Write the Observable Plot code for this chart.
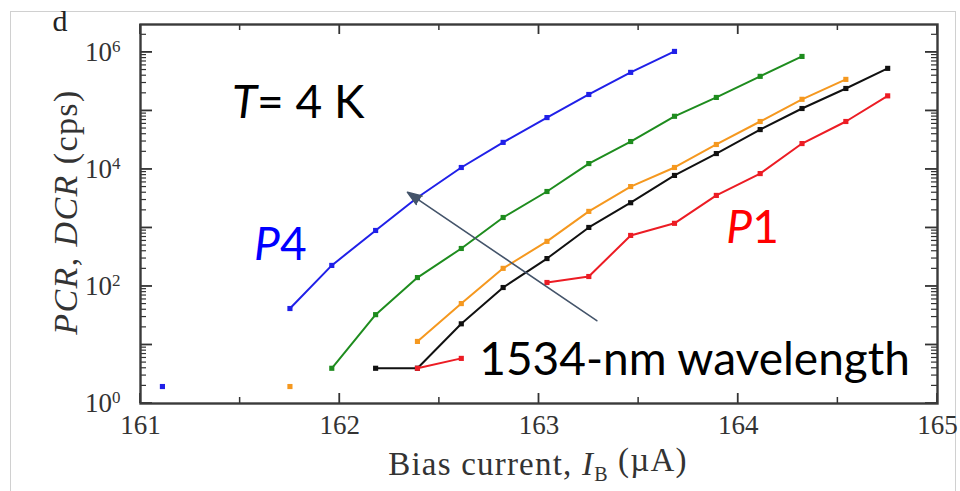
<!DOCTYPE html>
<html><head><meta charset="utf-8">
<script src="https://cdn.jsdelivr.net/npm/d3@7"></script>
<script src="https://cdn.jsdelivr.net/npm/@observablehq/plot@0.6"></script>
<style>
body{margin:0;background:#fff;}
#wrap{position:relative;width:960px;height:491px;overflow:hidden;background:#fff;}
#border{position:absolute;left:10px;top:11px;width:944px;height:540px;border:1px solid #d0d0d0;}
#chart{position:absolute;left:0;top:0;}
</style></head><body>
<div id="wrap"><div id="border"></div><div id="chart"></div></div>
<script>
// ---- data ----
const blueX  = [161.75, 161.96, 162.18, 162.39, 162.61, 162.82, 163.04, 163.25, 163.46, 163.68];
const blueY  = [42, 229, 906, 3320, 10800, 29000, 77000, 191000, 456000, 1040000];
const greenX = [161.96, 162.18, 162.39, 162.61, 162.82, 163.04, 163.25, 163.46, 163.68, 163.89, 164.11, 164.32];
const greenY = [4.0, 33, 142, 446, 1510, 4200, 12600, 30000, 81000, 170000, 390000, 853000];
const orangeX = [162.39, 162.61, 162.82, 163.04, 163.25, 163.46, 163.68, 163.89, 164.11, 164.32, 164.54];
const orangeY = [11.5, 51, 204, 590, 1920, 5100, 10800, 26700, 66000, 158000, 346000];
const blackX = [162.18, 162.39, 162.61, 162.82, 163.04, 163.25, 163.46, 163.68, 163.89, 164.11, 164.32, 164.54, 164.75];
const blackY = [4.0, 4.0, 23, 96, 300, 1020, 2700, 7900, 18700, 48000, 110000, 242000, 534000];
const redX = [162.39, 162.61, 162.82, 163.04, 163.25, 163.46, 163.68, 163.89, 164.11, 164.32, 164.54, 164.75];
const redY = [4.0, 5.9, null, 117, 148, 745, 1200, 3600, 8500, 27700, 66000, 181000];
// isolated points near the floor
const isoX = [161.11, 161.75];
const isoY = [1.95, 1.95];
const isoSeries = ["blue", "orange"];

const seriesNames = ["blue", "green", "orange", "black", "red"];
const seriesColors = ["#2020e8", "#1e8c1e", "#f5981f", "#111111", "#ec1c24"];

const xMajor = [161, 162, 163, 164, 165];
const xMinor = [161.5, 162.5, 163.5, 164.5];
const yMajor = [1, 10, 100, 1e3, 1e4, 1e5, 1e6];
const yLabelTicks = [1, 100, 1e4, 1e6];
const yMinor = [];
for (let k = 0; k <= 6; k++) for (let m = 2; m <= 9; m++) { const v = m * 10 ** k; if (v < 3e6) yMinor.push(v); }

// annotations
const arrowFrom = {x: 163.29, y: 26};
const arrowTo = {x: 162.34, y: 4070};
const labels = [
  {x: 161.585, y: 1.34e5, text: "T", italic: true, anchor: "end", color: "#000"},
  {x: 161.585, y: 1.34e5, text: "= 4 K", italic: false, anchor: "start", color: "#000"},
  {x: 161.70, y: 500, text: "P", italic: true, anchor: "end", color: "#0000ff"},
  {x: 161.70, y: 500, text: "4", italic: false, anchor: "start", color: "#0000ff"},
  {x: 164.07, y: 980, text: "P", italic: true, anchor: "end", color: "#ff0000"},
  {x: 164.07, y: 980, text: "1", italic: false, anchor: "start", color: "#ff0000"},
  {x: 162.70, y: 5.4, text: "1534-nm wavelength", italic: false, anchor: "start", color: "#000"}
];

// ---- build rows ----
const xs = {blue: blueX, green: greenX, orange: orangeX, black: blackX, red: redX};
const ys = {blue: blueY, green: greenY, orange: orangeY, black: blackY, red: redY};
const rows = [];
for (const s of seriesNames) xs[s].forEach((x, i) => rows.push({s, x, y: ys[s][i]}));
const isoRows = isoX.map((x, i) => ({s: isoSeries[i], x, y: isoY[i]}));
const dotRows = rows.filter(d => d.y != null).concat(isoRows);

const serif = "Liberation Serif, Times New Roman, serif";
const sans = "Lato, Open Sans, sans-serif";

const lineMarks = seriesNames.map((s, i) =>
  Plot.line(rows.filter(d => d.s === s), {x: "x", y: "y", stroke: seriesColors[i], strokeWidth: 2}));
const dotMarks = seriesNames.map((s, i) =>
  Plot.dot(dotRows.filter(d => d.s === s), {x: "x", y: "y", symbol: "square", r: 2.9, fill: seriesColors[i], stroke: "none"}));

const textMarks = labels.map(l => Plot.text([l], {
  x: "x", y: "y", text: "text", textAnchor: l.anchor, fill: l.color,
  fontSize: 46, fontFamily: sans, fontStyle: l.italic ? "italic" : "normal"
}));

const plot = Plot.plot({
  width: 960, height: 491,
  marginLeft: 140, marginRight: 23, marginTop: 24, marginBottom: 88,
  style: {background: "transparent", overflow: "visible"},
  x: {domain: [161, 165]},
  y: {type: "log", domain: [1, 3e6]},
  marks: [
    Plot.axisX({ticks: xMajor, tickSize: 0, tickPadding: 11, tickFormat: d => String(d), fontSize: 27, fontFamily: serif, fill: "#333", label: null}),
    Plot.axisY({ticks: yLabelTicks, tickSize: 0, tickPadding: 20, tickFormat: d => String(Math.round(Math.log10(d))), fontSize: 27, fontFamily: serif, fill: "#333", label: null}),
    Plot.frame({stroke: "#3a3a3a", strokeWidth: 2.4}),
    ...lineMarks,
    ...dotMarks,
    Plot.arrow([{x1: arrowFrom.x, y1: arrowFrom.y, x2: arrowTo.x, y2: arrowTo.y}], {
      x1: "x1", y1: "y1", x2: "x2", y2: "y2", stroke: "#44546a", strokeWidth: 1.6, headLength: 14, headAngle: 40
    }),
    ...textMarks
  ]
});

const svg = d3.select(plot);
const X = plot.scale("x"), Y = plot.scale("y");
const fLeft = X.apply(161), fRight = X.apply(165), fTop = Y.apply(3e6), fBottom = Y.apply(1);

// inward ticks on all four sides, placed with the plot's own scales
const tg = svg.insert("g", ":first-child").attr("stroke", "#333").attr("fill", "none");
const tick = (x1, y1, x2, y2, w) => tg.append("line").attr("x1", x1).attr("y1", y1).attr("x2", x2).attr("y2", y2).attr("stroke-width", w);
xMajor.forEach(v => { const px = X.apply(v); tick(px, fBottom, px, fBottom - 10, 1.8); tick(px, fTop, px, fTop + 10, 1.8); });
xMinor.forEach(v => { const px = X.apply(v); tick(px, fBottom, px, fBottom - 6, 1.5); tick(px, fTop, px, fTop + 6, 1.5); });
yMajor.forEach(v => { const py = Y.apply(v); tick(fLeft, py, fLeft + 12, py, 1.8); tick(fRight, py, fRight - 12, py, 1.8); });
yMinor.forEach(v => { const py = Y.apply(v); tick(fLeft, py, fLeft + 6, py, 1.2); tick(fRight, py, fRight - 6, py, 1.2); });

// filled arrowhead like the reference
svg.selectAll('g[aria-label="arrow"] path').attr("fill", "#44546a").attr("stroke-linejoin", "miter");

// superscript exponents on y tick labels
svg.selectAll('g[aria-label="y-axis tick label"] text').each(function () {
  const e = this.textContent;
  this.textContent = "10";
  d3.select(this).append("tspan").attr("dy", "-0.55em").attr("font-size", "17px").text(e);
});

// axis titles
const xt = svg.append("text").attr("x", 538).attr("y", 475).attr("text-anchor", "middle")
  .attr("font-family", serif).attr("font-size", 33).attr("fill", "#333").attr("letter-spacing", "1.2px");
xt.append("tspan").text("Bias current, ");
xt.append("tspan").attr("font-style", "italic").text("I");
xt.append("tspan").attr("font-size", 20).attr("dy", "0.3em").text("B");
xt.append("tspan").attr("dy", "-0.3em").text(" (\u00b5A)");

const yt = svg.append("text").attr("transform", "translate(77,212) rotate(-90)").attr("text-anchor", "middle")
  .attr("font-family", serif).attr("font-size", 34).attr("fill", "#333").attr("letter-spacing", "1.4px");
yt.append("tspan").attr("font-style", "italic").text("PCR");
yt.append("tspan").text(", ");
yt.append("tspan").attr("font-style", "italic").text("DCR");
yt.append("tspan").text(" (cps)");

svg.append("text").attr("x", 60).attr("y", 31).attr("font-family", serif).attr("font-size", 30)
  .attr("fill", "#222").text("d");

document.getElementById("chart").appendChild(plot);
</script>
</body></html>
